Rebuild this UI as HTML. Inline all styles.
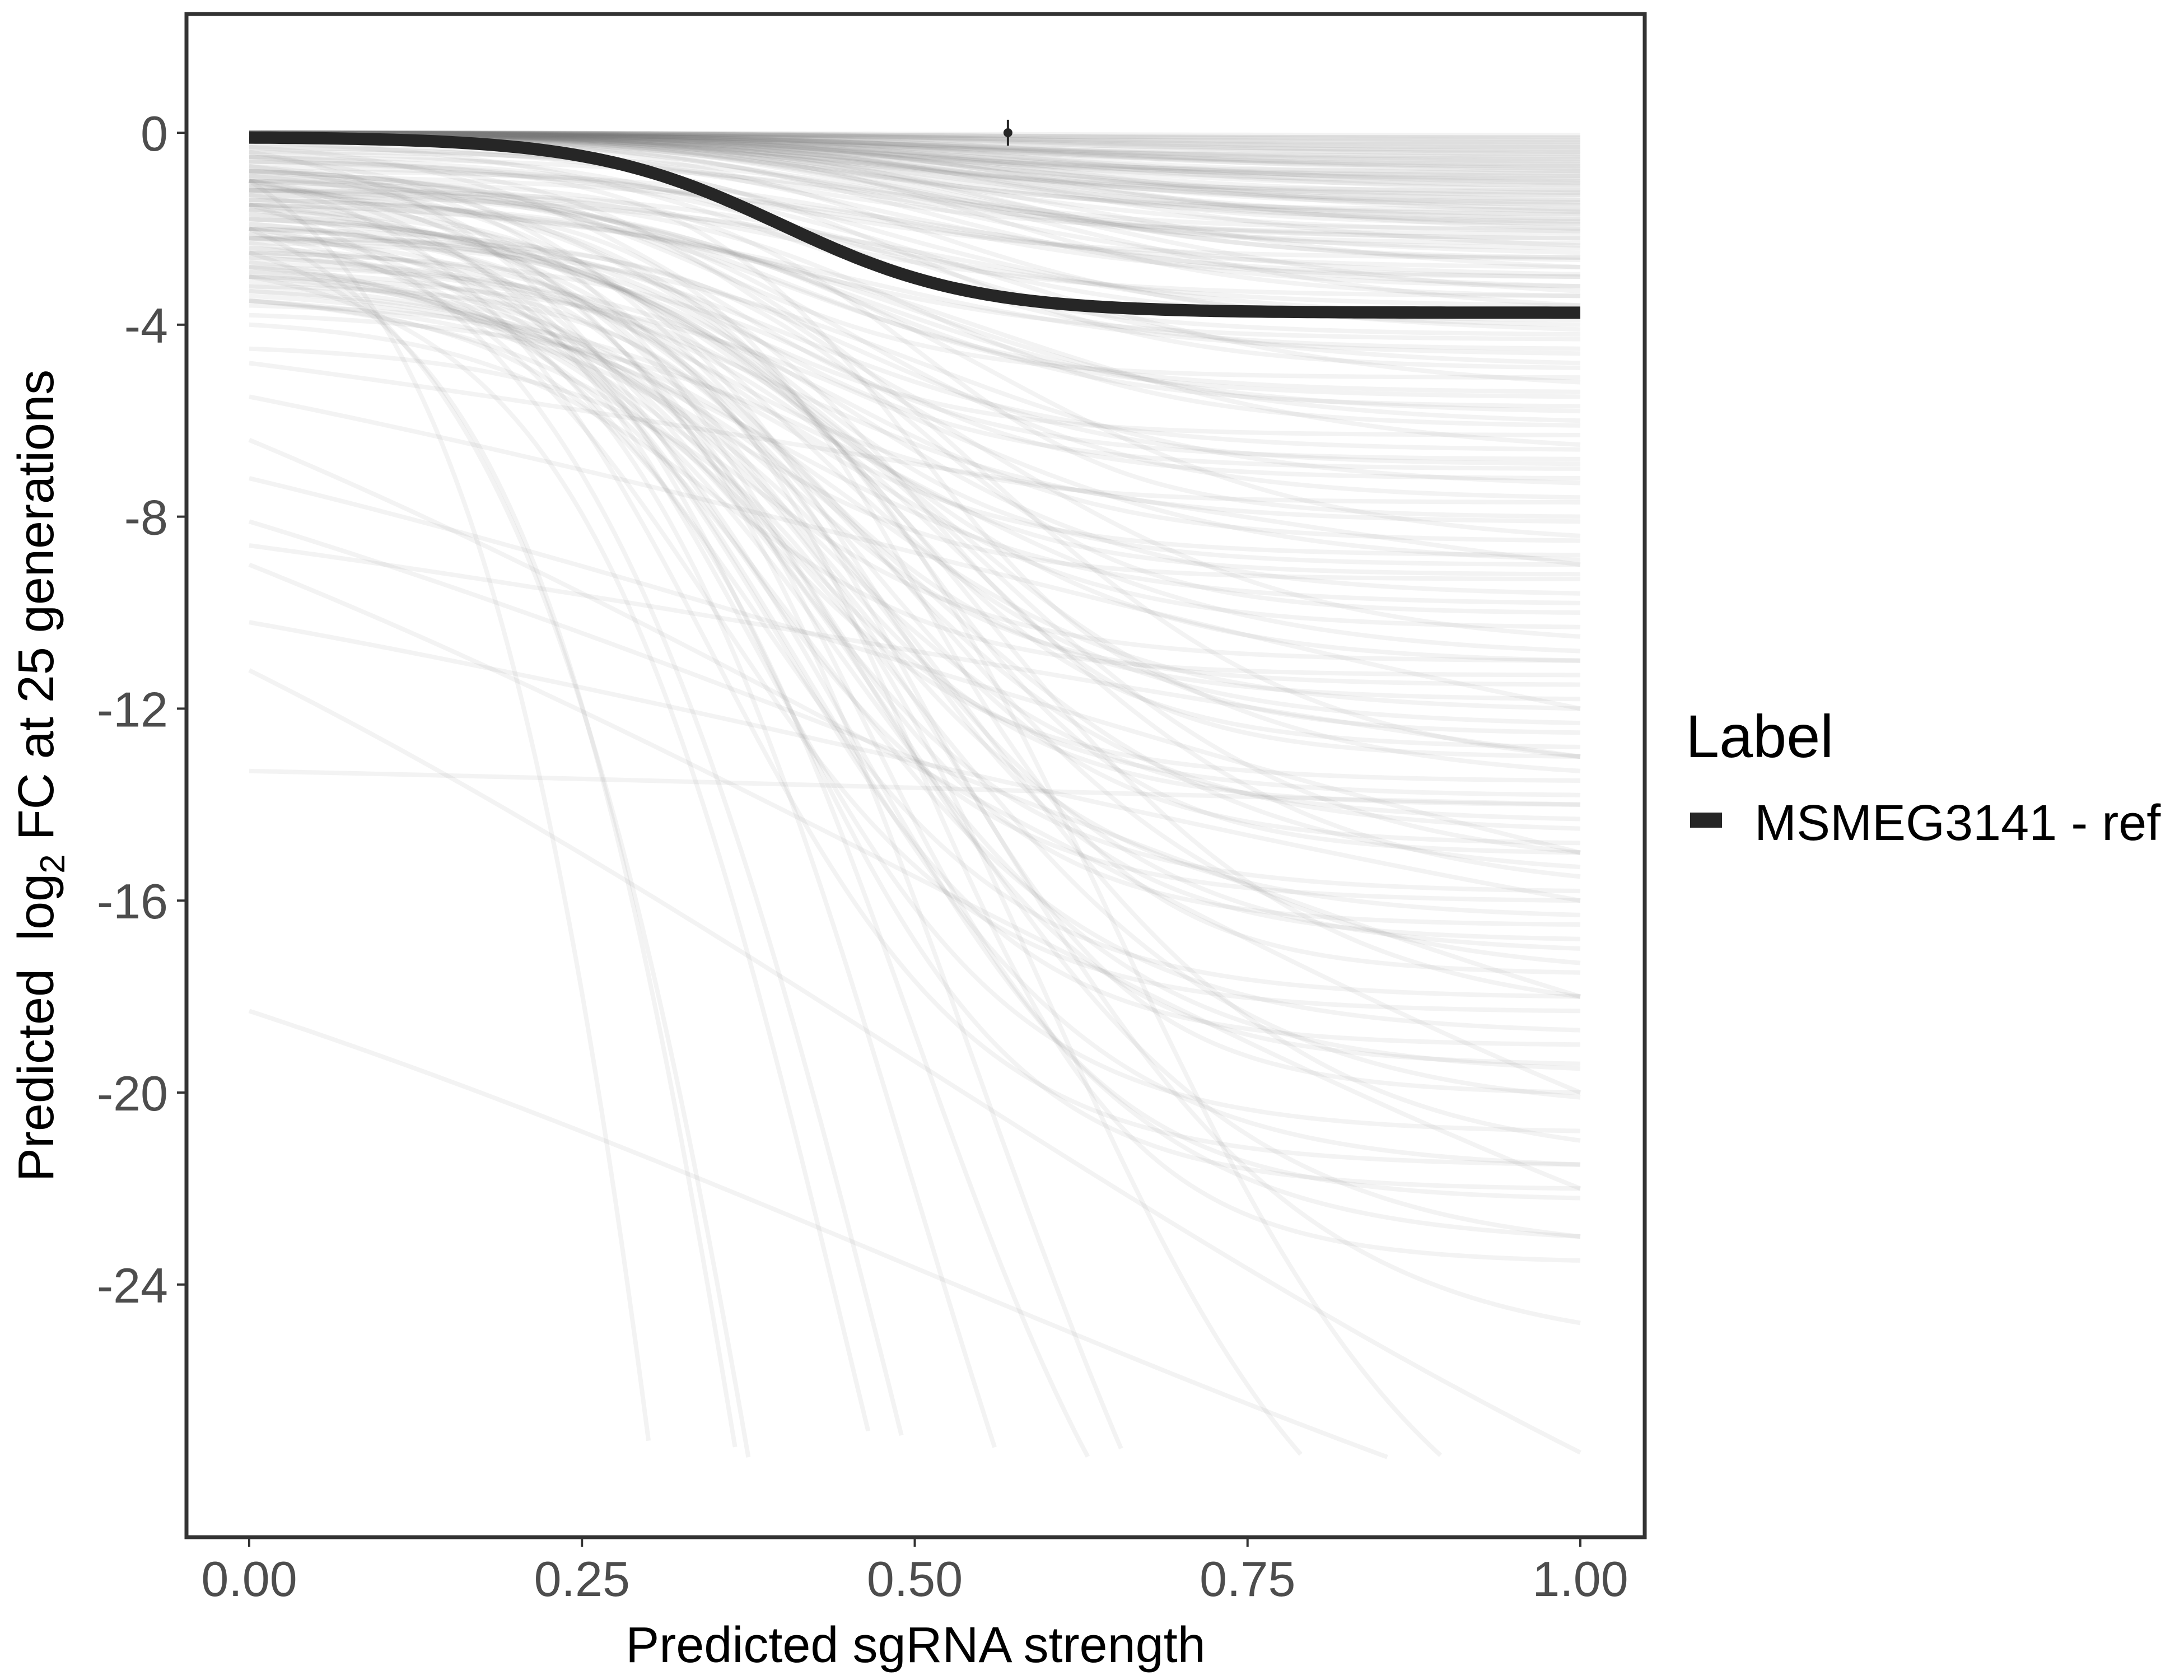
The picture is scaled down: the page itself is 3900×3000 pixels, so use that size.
<!DOCTYPE html>
<html><head><meta charset="utf-8">
<style>
html,body{margin:0;padding:0;background:#fff;}
svg{display:block;font-family:"Liberation Sans",sans-serif;}
</style></head>
<body>
<svg id="chart" width="3900" height="3000" viewBox="0 0 3900 3000">
  <rect x="0" y="0" width="3900" height="3000" fill="#fff"/>
  <g id="lines"></g>
  <g id="main"></g>
  <rect x="333" y="25" width="2604" height="2720" fill="none" stroke="#333" stroke-width="7"/>
  <g id="xaxis"></g>
  <g id="yaxis"></g>
  <text x="1635" y="2968" font-size="90" text-anchor="middle" fill="#000">Predicted sgRNA strength</text>
  <text transform="translate(95,1385) rotate(-90)" font-size="90" text-anchor="middle" fill="#000">Predicted&#160; log<tspan font-size="62" dy="20">2</tspan><tspan dy="-20"> FC at 25 generations</tspan></text>
  <g>
    <text x="3010" y="1352" font-size="108" fill="#000">Label</text>
    <rect x="3018" y="1451" width="57" height="27" fill="#262626"/>
    <text x="3133" y="1500" font-size="90" fill="#000">MSMEG3141 - ref</text>
  </g>
</svg>
<script>
const xTicks=[0,0.25,0.5,0.75,1];
const xTickLabels=["0.00","0.25","0.50","0.75","1.00"];
const yTicks=[0,-4,-8,-12,-16,-20,-24];
const yTickLabels=["0","-4","-8","-12","-16","-20","-24"];
// gene curves: start value (x=0), end value (x=1), midpoint, steepness
const curveStarts=[0,0,0,0,0,0,0,0,0,0,0,0,0,0,0,0,0,0,0,0,-0.2,-0.3,-0.4,-0.5,-0.6,-0.7,-0.8,-0.9,-1,-1.1,-1.2,-1.3,-1.4,-1.5,-0.3,-0.5,-0.8,-1,-1.2,-1.5,
 0,0,0,0,0,0,0,0,0,0,0,0,0,0,0,0,0,0,0,0,
 -0.3,-0.5,-0.8,-1.0,-1.2,-1.5,-1.8,-2.0,-2.2,-2.5,-2.8,-3.0,-3.3,-0.6,-0.9,-1.3,-1.6,-1.9,-2.3,-2.7,-0.4,-0.7,-1.1,-1.4,-1.7,-2.1,-2.4,-2.9,-3.2,-3.5,-1.0,-1.5,-2.0,-2.5,-3.0,-0.8,-1.2,-1.8,-2.2,-2.6,
 -1,-2,-2.5,-1.5,-3,-2,-1,-3.5,-4.5,-2,
 -4.8,-5.5,-6.4,-7.2,-8.1,-8.6,-9,-10.2,-11.2,-13.3,-18.3,
 0,0,0,0,0,0,0,0,0,0,0,0,0,0,0,0,0,0,0,0,0,0,0,0,0,0,0,0,0,0,
 -0.2,-0.4,-0.6,-0.8,-1.0,-1.2,-1.4,-1.6,-1.8,-2.0,-2.2,-2.4,-2.6,-2.8,-3.0,-3.2,-3.4,-3.6,-3.8,-4.0,
 -0.5,-0.9,-1.3,-1.7,-2.1,-2.5,-2.9,-3.3,-0.7,-1.1,-1.5,-1.9,-2.3,-2.7,-3.1,-3.5,-1.0,-1.6,-2.2,-2.8];
const curveEnds=[-0.1,-0.2,-0.3,-0.4,-0.5,-0.6,-0.7,-0.8,-0.9,-1.0,-1.1,-1.2,-1.3,-1.4,-1.5,-1.6,-1.7,-1.8,-1.9,-2.0,-2.1,-2.2,-2.3,-2.5,-2.6,-2.8,-3.0,-3.2,-3.4,-3.6,-3.9,-4.1,-4.3,-4.6,-4.9,-5.2,-5.5,-5.8,-6.1,-6.5,
 -0.05,-0.15,-0.25,-0.35,-0.45,-0.55,-0.65,-0.75,-0.85,-0.95,-1.05,-1.25,-1.45,-1.65,-1.85,-2.05,-2.35,-2.65,-2.95,-3.3,
 -6.8,-7.2,-7.6,-8.0,-8.4,-8.8,-9.2,-9.6,-10,-10.5,-11,-11.5,-12,-12.5,-13,-13.5,-14,-14.5,-15,-15.5,-16,-16.5,-17,-17.5,-18,-18.3,-19,-19.5,-20,-21,-21.5,-22,-23,-23.5,-24.8,-7,-9,-11,-13,-15,
 -120,-80,-65,-55,-48,-42,-38,-34,-31,-29.5,
 -9,-12,-20,-15,-18,-13,-22,-16,-27.5,-14,-29,
 -0.1,-0.2,-0.3,-0.4,-0.5,-0.6,-0.7,-0.8,-0.9,-1.0,-1.1,-1.2,-1.3,-1.4,-1.5,-1.6,-1.7,-1.8,-1.9,-2.0,-2.2,-2.4,-2.6,-2.8,-3.0,-3.2,-3.4,-3.6,-3.8,-4.0,
 -4.2,-4.5,-4.8,-5.1,-5.4,-5.7,-6.0,-6.3,-6.6,-6.9,-7.3,-7.7,-8.1,-8.5,-8.9,-9.3,-9.8,-10.3,-10.8,-11.3,
 -11.8,-12.3,-12.8,-13.3,-13.8,-14.3,-14.8,-15.3,-15.8,-16.3,-16.8,-17.3,-18.0,-18.7,-19.4,-20.1,-20.8,-21.5,-22.2,-23.0];
const curveMids=[0.5,0.55,0.6,0.45,0.5,0.55,0.6,0.45,0.5,0.55,0.6,0.45,0.5,0.55,0.6,0.45,0.5,0.55,0.6,0.45,0.4,0.45,0.5,0.55,0.4,0.45,0.5,0.55,0.4,0.45,0.5,0.55,0.4,0.45,0.5,0.55,0.4,0.45,0.5,0.55,
 0.5,0.6,0.55,0.5,0.6,0.55,0.5,0.6,0.55,0.5,0.6,0.55,0.5,0.6,0.55,0.5,0.6,0.55,0.5,0.6,
 0.35,0.4,0.45,0.5,0.55,0.35,0.4,0.45,0.5,0.55,0.35,0.4,0.45,0.5,0.55,0.35,0.4,0.45,0.5,0.55,0.35,0.4,0.45,0.5,0.55,0.35,0.4,0.45,0.5,0.55,0.35,0.4,0.45,0.5,0.55,0.35,0.4,0.45,0.5,0.55,
 0.42,0.45,0.4,0.5,0.45,0.5,0.55,0.5,0.6,0.65,
 0.5,0.5,0.5,0.5,0.5,0.5,0.5,0.5,0.5,0.5,0.5,
 0.45,0.5,0.55,0.6,0.45,0.5,0.55,0.6,0.45,0.5,0.55,0.6,0.45,0.5,0.55,0.6,0.45,0.5,0.55,0.6,0.45,0.5,0.55,0.6,0.45,0.5,0.55,0.6,0.45,0.5,
 0.4,0.45,0.5,0.35,0.4,0.45,0.5,0.35,0.4,0.45,0.5,0.35,0.4,0.45,0.5,0.35,0.4,0.45,0.5,0.35,
 0.38,0.42,0.46,0.5,0.38,0.42,0.46,0.5,0.38,0.42,0.46,0.5,0.38,0.42,0.46,0.5,0.38,0.42,0.46,0.5];
const curveKs=[8,7,9,10,8,7,9,10,8,7,9,10,8,7,9,10,8,7,9,10,9,8,10,7,9,8,10,7,9,8,10,7,9,8,10,7,9,8,10,7,
 8,7,9,8,7,9,8,7,9,8,7,9,8,7,9,8,7,9,8,7,
 10,11,9,12,8,10,11,9,12,8,10,11,9,12,8,10,11,9,12,8,10,11,9,12,8,10,11,9,12,8,10,11,9,12,8,10,11,9,12,8,
 10,9,11,8,10,9,8,10,9,8,
 2,2,2,2,2,2,2,2,2,2,2,
 8,9,10,7,8,9,10,7,8,9,10,7,8,9,10,7,8,9,10,7,8,9,10,7,8,9,10,7,8,9,
 9,10,8,11,9,10,8,11,9,10,8,11,9,10,8,11,9,10,8,11,
 10,9,11,8,10,9,11,8,10,9,11,8,10,9,11,8,10,9,11,8];
// highlighted curve
const mainStart=-0.1, mainEnd=-3.75, mainMid=0.4, mainK=14;
const pointX=[0.57], pointY=[0], pointErr=[0.27];

const NS="http://www.w3.org/2000/svg";
const X0=445,X1=2822,Y0=237,YU=85.7;
function sx(v){return X0+(X1-X0)*v;}
function sy(v){return Y0-YU*v;}
function curve(a,b,m,k,x){
  const L=t=>1/(1+Math.exp(-k*(t-m)));
  const l0=L(0),l1=L(1);
  return a+(b-a)*(L(x)-l0)/(l1-l0);
}
function pathFor(a,b,m,k){
  let d="";
  for(let i=0;i<=200;i++){
    const x=i/200, y=curve(a,b,m,k,x);
    if(y<-27.6)break;
    d+=(i?"L":"M")+sx(x).toFixed(1)+","+sy(y).toFixed(1);
  }
  return d;
}
const lg=document.getElementById("lines");
for(let i=0;i<curveStarts.length;i++){
  const p=document.createElementNS(NS,"path");
  p.setAttribute("d",pathFor(curveStarts[i],curveEnds[i],curveMids[i],curveKs[i]));
  p.setAttribute("fill","none");
  p.setAttribute("stroke","#7a7a7a");
  p.setAttribute("stroke-opacity","0.09");
  p.setAttribute("stroke-width","8");
  
  
  lg.appendChild(p);
}
const mg=document.getElementById("main");
const mp=document.createElementNS(NS,"path");
mp.setAttribute("d",pathFor(mainStart,mainEnd,mainMid,mainK));
mp.setAttribute("fill","none");
mp.setAttribute("stroke","#262626");
mp.setAttribute("stroke-width","22");


mg.appendChild(mp);
for(let i=0;i<pointX.length;i++){
  const l=document.createElementNS(NS,"line");
  l.setAttribute("x1",sx(pointX[i]));l.setAttribute("x2",sx(pointX[i]));
  l.setAttribute("y1",sy(pointY[i]+pointErr[i]));l.setAttribute("y2",sy(pointY[i]-pointErr[i]));
  l.setAttribute("stroke","#262626");l.setAttribute("stroke-width","4");
  
  
  mg.appendChild(l);
  const c=document.createElementNS(NS,"circle");
  c.setAttribute("cx",sx(pointX[i]));c.setAttribute("cy",sy(pointY[i]));c.setAttribute("r","8");
  c.setAttribute("fill","#262626");
  
  
  mg.appendChild(c);
}
const xa=document.getElementById("xaxis");
xTicks.forEach((v,i)=>{
  const t=document.createElementNS(NS,"line");
  t.setAttribute("x1",sx(v));t.setAttribute("x2",sx(v));t.setAttribute("y1",2748);t.setAttribute("y2",2762);
  t.setAttribute("stroke","#333");t.setAttribute("stroke-width","4");
  
  
  xa.appendChild(t);
  const tx=document.createElementNS(NS,"text");
  tx.setAttribute("x",sx(v));tx.setAttribute("y",2850);tx.setAttribute("font-size","88");
  tx.setAttribute("text-anchor","middle");tx.setAttribute("fill","#4d4d4d");
  tx.textContent=xTickLabels[i];
  
  
  xa.appendChild(tx);
});
const ya=document.getElementById("yaxis");
yTicks.forEach((v,i)=>{
  const t=document.createElementNS(NS,"line");
  t.setAttribute("x1",316);t.setAttribute("x2",330);t.setAttribute("y1",sy(v));t.setAttribute("y2",sy(v));
  t.setAttribute("stroke","#333");t.setAttribute("stroke-width","4");
  
  
  ya.appendChild(t);
  const tx=document.createElementNS(NS,"text");
  tx.setAttribute("x",300);tx.setAttribute("y",sy(v)+32);tx.setAttribute("font-size","88");
  tx.setAttribute("text-anchor","end");tx.setAttribute("fill","#4d4d4d");
  tx.textContent=yTickLabels[i];
  
  
  ya.appendChild(tx);
});
</script>
</body></html>
